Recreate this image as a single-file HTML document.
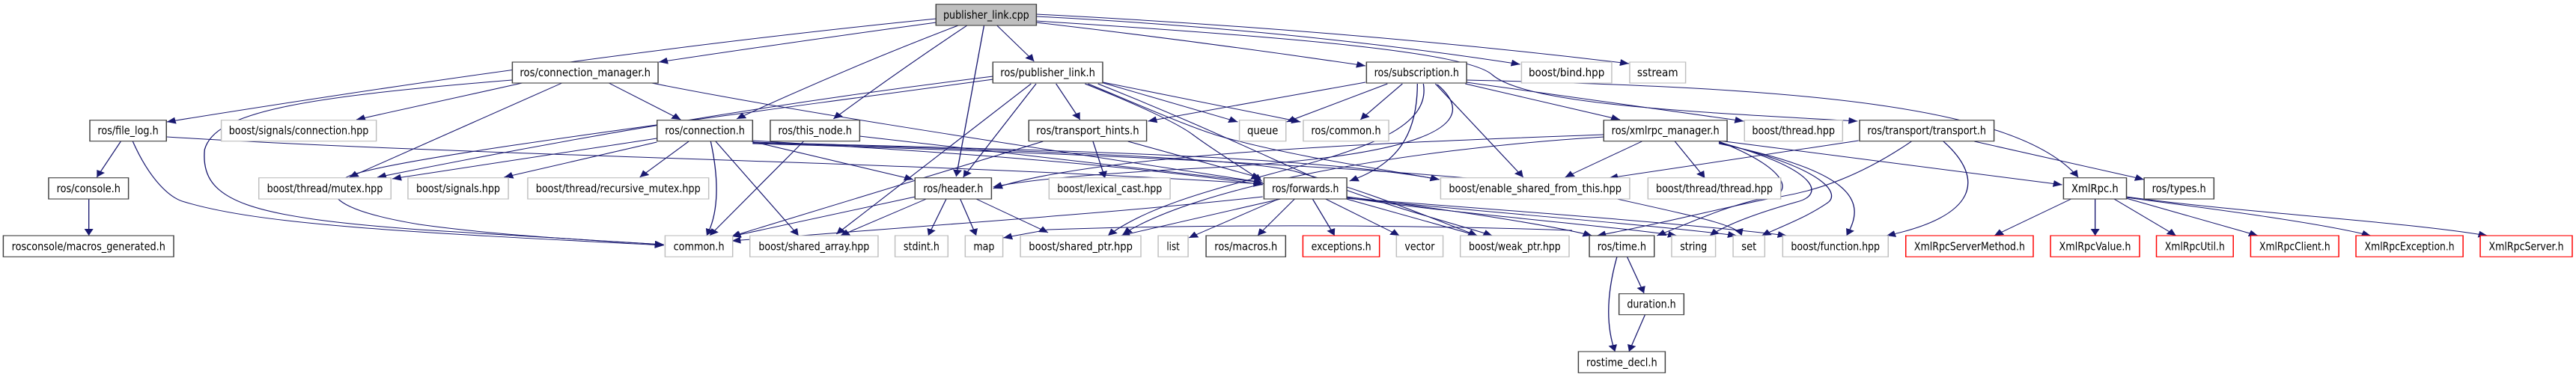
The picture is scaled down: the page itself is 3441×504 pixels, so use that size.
<!DOCTYPE html>
<html><head><meta charset="utf-8"><style>
html,body{margin:0;padding:0;background:#fff;width:3441px;height:504px;overflow:hidden}
svg{display:block}
text{font-family:"DejaVu Sans","Liberation Sans",sans-serif;font-size:15px;fill:#000}
.e{fill:none;stroke:#191970;stroke-width:1}
.k{fill:#fff;stroke:#404040;stroke-width:1.1}
.g{fill:#fff;stroke:#bfbfbf;stroke-width:1.1}
.r{fill:#fff;stroke:#ff0000;stroke-width:1.1}
.t{fill:#bfbfbf;stroke:#404040;stroke-width:1.1}
</style></head><body>
<svg width="3441" height="504" viewBox="0 0 2580.75 504" preserveAspectRatio="none" xmlns="http://www.w3.org/2000/svg">
<defs><marker id="a" markerUnits="userSpaceOnUse" markerWidth="10" markerHeight="9" refX="9" refY="4.5" orient="auto"><path d="M0,0 L9,4.5 L0,9 z" fill="#191970"/></marker></defs>
<g class="e" marker-end="url(#a)">
<path d="M938,25 Q600,70 167,163"/>
<path d="M938,30 Q800,55 660,83"/>
<path d="M962,33 Q850,90 738,159"/>
<path d="M970,33 Q900,95 835,159"/>
<path d="M986,33 L958,236"/>
<path d="M998,33 L1036,82"/>
<path d="M1038,30 Q1200,55 1368,88"/>
<path d="M1038,22 Q1300,40 1523,86"/>
<path d="M1038,19 Q1350,40 1632,85"/>
<path d="M1038,28 C1300,50 1470,70 1495,100 C1530,140 1700,150 1861,162"/>
<path d="M523,111 L357,160"/>
<path d="M563,111 L350,237"/>
<path d="M513,107 C300,130 215,150 205,200 C200,270 250,290 420,307 L665,327"/>
<path d="M610,111 L682,160"/>
<path d="M653,111 C800,150 1000,190 1265,244"/>
<path d="M121,189 L97,237"/>
<path d="M133,189 C150,240 170,265 185,270 C260,300 400,310 665,328"/>
<path d="M167,183 C500,210 900,215 1265,246"/>
<path d="M89,266 L89,315"/>
<path d="M690,189 L641,237"/>
<path d="M712,189 C722,250 718,290 708,315"/>
<path d="M717,189 L800,315"/>
<path d="M753,189 L915,240"/>
<path d="M658,185 L393,239"/>
<path d="M658,190 L505,237"/>
<path d="M754,188 C900,200 1100,215 1265,247"/>
<path d="M754,190 C1000,200 1300,205 1442,240"/>
<path d="M754,191 C1000,200 1250,210 1300,230 C1380,260 1430,290 1480,315"/>
<path d="M754,192 C1100,205 1500,230 1600,260 C1700,290 1740,300 1745,315"/>
<path d="M805,189 L711,315"/>
<path d="M861,182 L1265,244"/>
<path d="M995,102 Q700,150 378,237"/>
<path d="M995,106 C700,160 400,210 350,235 C320,255 330,280 420,300 C500,315 600,322 665,327"/>
<path d="M1058,112 L1082,160"/>
<path d="M1038,112 L965,237"/>
<path d="M1033,112 L838,313"/>
<path d="M1103,110 L1240,163"/>
<path d="M1105,110 L1303,163"/>
<path d="M1087,112 C1140,140 1180,165 1195,180 C1215,200 1240,220 1264,242"/>
<path d="M1090,112 C1150,145 1200,175 1230,185 C1300,210 1380,225 1442,240"/>
<path d="M1100,112 C1200,165 1270,210 1330,245 C1400,280 1460,300 1495,315"/>
<path d="M1095,189 L1107,238"/>
<path d="M1130,189 L1263,238"/>
<path d="M1045,189 L733,316"/>
<path d="M1368,110 L1150,162"/>
<path d="M1390,112 L1289,163"/>
<path d="M1405,112 L1363,160"/>
<path d="M1438,112 L1526,237"/>
<path d="M1420,112 C1420,180 1400,220 1352,242"/>
<path d="M1426,112 C1440,220 1200,225 1110,315"/>
<path d="M1440,113 C1490,170 1420,210 1200,225 C1100,232 1030,240 995,250"/>
<path d="M1469,107 C1800,117 2020,140 2082,237"/>
<path d="M1468,112 L1623,160"/>
<path d="M1469,110 L1747,162"/>
<path d="M1607,180 C1400,190 1100,205 995,252"/>
<path d="M1607,183 C1400,200 1200,250 1125,313"/>
<path d="M1645,189 L1568,237"/>
<path d="M1678,189 L1708,238"/>
<path d="M1722,189 C1800,230 1795,262 1767,267 C1720,280 1660,300 1600,315"/>
<path d="M1722,190 C1820,225 1830,260 1800,270 C1760,285 1730,300 1713,315"/>
<path d="M1722,191 C1830,225 1845,260 1830,272 C1810,290 1790,300 1765,315"/>
<path d="M1722,192 C1860,230 1870,270 1850,315"/>
<path d="M1722,188 L2066,247"/>
<path d="M1862,188 L1612,238"/>
<path d="M1915,189 C1870,230 1820,260 1760,267 C1720,280 1690,300 1660,315"/>
<path d="M1947,189 C1990,240 1980,290 1890,315"/>
<path d="M1978,189 L2148,240"/>
<path d="M2075,266 L1998,315"/>
<path d="M2099,266 L2099,315"/>
<path d="M2118,266 L2180,315"/>
<path d="M2130,265 L2262,315"/>
<path d="M2130,264 C2250,285 2330,300 2375,315"/>
<path d="M2130,263 C2250,285 2400,295 2492,315"/>
<path d="M1283,266 L1123,315"/>
<path d="M1281,266 L1191,318"/>
<path d="M1297,266 L1260,315"/>
<path d="M1315,266 L1337,315"/>
<path d="M1328,266 L1402,315"/>
<path d="M1349,266 L1480,315"/>
<path d="M1349,263 C1450,280 1550,300 1595,315"/>
<path d="M1349,264 C1450,285 1600,300 1680,315"/>
<path d="M1349,265 C1500,285 1650,300 1740,315"/>
<path d="M1349,265 C1500,280 1700,300 1790,315"/>
<path d="M1265,263 C1150,280 1050,290 733,322"/>
<path d="M1575,308 C1400,300 1200,300 1050,307 L1005,318"/>
<path d="M917,263 L733,316"/>
<path d="M928,266 L842,315"/>
<path d="M948,266 L930,315"/>
<path d="M962,266 L978,315"/>
<path d="M978,266 L1050,311"/>
<path d="M1630,343 L1647,392"/>
<path d="M1620,343 C1608,400 1610,440 1618,470"/>
<path d="M1648,421 L1632,470"/>
</g>
<rect class="t" x="937.7" y="5.7" width="100.6" height="28.3"/><text x="988" y="25" text-anchor="middle" textLength="86" lengthAdjust="spacingAndGlyphs">publisher_link.cpp</text>
<rect class="k" x="513.3" y="83" width="146" height="28"/><text x="586.3" y="102" text-anchor="middle" textLength="131" lengthAdjust="spacingAndGlyphs">ros/connection_manager.h</text>
<rect class="k" x="994.7" y="83" width="110" height="28"/><text x="1049.7" y="102" text-anchor="middle" textLength="95" lengthAdjust="spacingAndGlyphs">ros/publisher_link.h</text>
<rect class="k" x="1369" y="83" width="100.3" height="28"/><text x="1419.2" y="102" text-anchor="middle" textLength="85" lengthAdjust="spacingAndGlyphs">ros/subscription.h</text>
<rect class="g" x="1524.3" y="83" width="90.4" height="28"/><text x="1569.5" y="102" text-anchor="middle" textLength="76" lengthAdjust="spacingAndGlyphs">boost/bind.hpp</text>
<rect class="g" x="1632.7" y="83" width="56" height="28"/><text x="1660.7" y="102" text-anchor="middle" textLength="41" lengthAdjust="spacingAndGlyphs">sstream</text>
<rect class="k" x="90" y="160.7" width="76.7" height="28"/><text x="128.3" y="179.7" text-anchor="middle" textLength="61" lengthAdjust="spacingAndGlyphs">ros/file_log.h</text>
<rect class="g" x="221.7" y="160.7" width="155.3" height="28"/><text x="299.3" y="179.7" text-anchor="middle" textLength="140" lengthAdjust="spacingAndGlyphs">boost/signals/connection.hpp</text>
<rect class="k" x="658.3" y="160.7" width="95.7" height="28"/><text x="706.2" y="179.7" text-anchor="middle" textLength="80" lengthAdjust="spacingAndGlyphs">ros/connection.h</text>
<rect class="k" x="771.7" y="160.7" width="89.6" height="28"/><text x="816.5" y="179.7" text-anchor="middle" textLength="74" lengthAdjust="spacingAndGlyphs">ros/this_node.h</text>
<rect class="k" x="1030.7" y="160.7" width="118" height="28"/><text x="1089.7" y="179.7" text-anchor="middle" textLength="103" lengthAdjust="spacingAndGlyphs">ros/transport_hints.h</text>
<rect class="g" x="1241.7" y="160.7" width="46.6" height="28"/><text x="1265" y="179.7" text-anchor="middle" textLength="31" lengthAdjust="spacingAndGlyphs">queue</text>
<rect class="g" x="1305.7" y="160.7" width="85.6" height="28"/><text x="1348.5" y="179.7" text-anchor="middle" textLength="70" lengthAdjust="spacingAndGlyphs">ros/common.h</text>
<rect class="k" x="1606.7" y="160.7" width="123.6" height="28"/><text x="1668.5" y="179.7" text-anchor="middle" textLength="108" lengthAdjust="spacingAndGlyphs">ros/xmlrpc_manager.h</text>
<rect class="g" x="1747.7" y="160.7" width="98.3" height="28"/><text x="1796.8" y="179.7" text-anchor="middle" textLength="83" lengthAdjust="spacingAndGlyphs">boost/thread.hpp</text>
<rect class="k" x="1863" y="160.7" width="134.7" height="28"/><text x="1930.3" y="179.7" text-anchor="middle" textLength="119" lengthAdjust="spacingAndGlyphs">ros/transport/transport.h</text>
<rect class="k" x="48.7" y="237.7" width="80" height="28.3"/><text x="88.7" y="257" text-anchor="middle" textLength="64" lengthAdjust="spacingAndGlyphs">ros/console.h</text>
<rect class="g" x="259.3" y="237.7" width="132.4" height="28.3"/><text x="325.5" y="257" text-anchor="middle" textLength="116" lengthAdjust="spacingAndGlyphs">boost/thread/mutex.hpp</text>
<rect class="g" x="408.7" y="237.7" width="100.6" height="28.3"/><text x="459" y="257" text-anchor="middle" textLength="84" lengthAdjust="spacingAndGlyphs">boost/signals.hpp</text>
<rect class="g" x="528.7" y="237.7" width="181.3" height="28.3"/><text x="619.3" y="257" text-anchor="middle" textLength="165" lengthAdjust="spacingAndGlyphs">boost/thread/recursive_mutex.hpp</text>
<rect class="k" x="916.7" y="237.7" width="76.6" height="28.3"/><text x="955" y="257" text-anchor="middle" textLength="60" lengthAdjust="spacingAndGlyphs">ros/header.h</text>
<rect class="g" x="1051" y="237.7" width="121.3" height="28.3"/><text x="1111.7" y="257" text-anchor="middle" textLength="105" lengthAdjust="spacingAndGlyphs">boost/lexical_cast.hpp</text>
<rect class="k" x="1266.3" y="237.7" width="83" height="28.3"/><text x="1307.8" y="257" text-anchor="middle" textLength="67" lengthAdjust="spacingAndGlyphs">ros/forwards.h</text>
<rect class="g" x="1443.3" y="237.7" width="189.4" height="28.3"/><text x="1538" y="257" text-anchor="middle" textLength="173" lengthAdjust="spacingAndGlyphs">boost/enable_shared_from_this.hpp</text>
<rect class="g" x="1651" y="237.7" width="133" height="28.3"/><text x="1717.5" y="257" text-anchor="middle" textLength="117" lengthAdjust="spacingAndGlyphs">boost/thread/thread.hpp</text>
<rect class="k" x="2067.3" y="237.7" width="63.1" height="28.3"/><text x="2098.8" y="257" text-anchor="middle" textLength="47" lengthAdjust="spacingAndGlyphs">XmlRpc.h</text>
<rect class="k" x="2148.1" y="237.7" width="69.9" height="28.3"/><text x="2183" y="257" text-anchor="middle" textLength="54" lengthAdjust="spacingAndGlyphs">ros/types.h</text>
<rect class="k" x="3.3" y="315" width="170.7" height="28.3"/><text x="88.7" y="334.3" text-anchor="middle" textLength="154" lengthAdjust="spacingAndGlyphs">rosconsole/macros_generated.h</text>
<rect class="g" x="666.3" y="315" width="67.7" height="28.3"/><text x="700.2" y="334.3" text-anchor="middle" textLength="51" lengthAdjust="spacingAndGlyphs">common.h</text>
<rect class="g" x="751.3" y="315" width="128.4" height="28.3"/><text x="815.5" y="334.3" text-anchor="middle" textLength="111" lengthAdjust="spacingAndGlyphs">boost/shared_array.hpp</text>
<rect class="g" x="896.7" y="315" width="53" height="28.3"/><text x="923.2" y="334.3" text-anchor="middle" textLength="36" lengthAdjust="spacingAndGlyphs">stdint.h</text>
<rect class="g" x="967" y="315" width="37.7" height="28.3"/><text x="985.8" y="334.3" text-anchor="middle" textLength="21" lengthAdjust="spacingAndGlyphs">map</text>
<rect class="g" x="1022.3" y="315" width="120.7" height="28.3"/><text x="1082.7" y="334.3" text-anchor="middle" textLength="104" lengthAdjust="spacingAndGlyphs">boost/shared_ptr.hpp</text>
<rect class="g" x="1160.3" y="315" width="30" height="28.3"/><text x="1175.3" y="334.3" text-anchor="middle" textLength="13" lengthAdjust="spacingAndGlyphs">list</text>
<rect class="k" x="1208.3" y="315" width="79.7" height="28.3"/><text x="1248.2" y="334.3" text-anchor="middle" textLength="63" lengthAdjust="spacingAndGlyphs">ros/macros.h</text>
<rect class="r" x="1305.3" y="315" width="76.7" height="28.3"/><text x="1343.7" y="334.3" text-anchor="middle" textLength="60" lengthAdjust="spacingAndGlyphs">exceptions.h</text>
<rect class="g" x="1399" y="315" width="46.7" height="28.3"/><text x="1422.3" y="334.3" text-anchor="middle" textLength="30" lengthAdjust="spacingAndGlyphs">vector</text>
<rect class="g" x="1463" y="315" width="109" height="28.3"/><text x="1517.5" y="334.3" text-anchor="middle" textLength="92" lengthAdjust="spacingAndGlyphs">boost/weak_ptr.hpp</text>
<rect class="k" x="1592.3" y="315" width="65" height="28.3"/><text x="1624.8" y="334.3" text-anchor="middle" textLength="49" lengthAdjust="spacingAndGlyphs">ros/time.h</text>
<rect class="g" x="1674.7" y="315" width="44" height="28.3"/><text x="1696.7" y="334.3" text-anchor="middle" textLength="27" lengthAdjust="spacingAndGlyphs">string</text>
<rect class="g" x="1736.3" y="315" width="31.7" height="28.3"/><text x="1752.2" y="334.3" text-anchor="middle" textLength="15" lengthAdjust="spacingAndGlyphs">set</text>
<rect class="g" x="1786" y="315" width="105.7" height="28.3"/><text x="1838.8" y="334.3" text-anchor="middle" textLength="89" lengthAdjust="spacingAndGlyphs">boost/function.hpp</text>
<rect class="r" x="1909.3" y="315" width="127.7" height="28.3"/><text x="1973.2" y="334.3" text-anchor="middle" textLength="111" lengthAdjust="spacingAndGlyphs">XmlRpcServerMethod.h</text>
<rect class="r" x="2054.3" y="315" width="89.2" height="28.3"/><text x="2098.9" y="334.3" text-anchor="middle" textLength="72" lengthAdjust="spacingAndGlyphs">XmlRpcValue.h</text>
<rect class="r" x="2160.4" y="315" width="77" height="28.3"/><text x="2198.9" y="334.3" text-anchor="middle" textLength="60" lengthAdjust="spacingAndGlyphs">XmlRpcUtil.h</text>
<rect class="r" x="2254.8" y="315" width="88.3" height="28.3"/><text x="2299" y="334.3" text-anchor="middle" textLength="71" lengthAdjust="spacingAndGlyphs">XmlRpcClient.h</text>
<rect class="r" x="2360.3" y="315" width="107.3" height="28.3"/><text x="2414" y="334.3" text-anchor="middle" textLength="90" lengthAdjust="spacingAndGlyphs">XmlRpcException.h</text>
<rect class="r" x="2484.8" y="315" width="92.2" height="28.3"/><text x="2530.9" y="334.3" text-anchor="middle" textLength="75" lengthAdjust="spacingAndGlyphs">XmlRpcServer.h</text>
<rect class="k" x="1622" y="392.7" width="65" height="28"/><text x="1654.5" y="411.7" text-anchor="middle" textLength="49" lengthAdjust="spacingAndGlyphs">duration.h</text>
<rect class="k" x="1581.3" y="470" width="87" height="28.3"/><text x="1624.8" y="489.3" text-anchor="middle" textLength="71" lengthAdjust="spacingAndGlyphs">rostime_decl.h</text>
</svg>
</body></html>
